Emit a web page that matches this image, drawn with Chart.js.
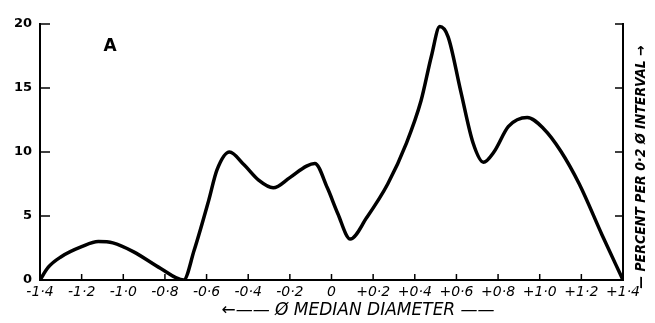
<!DOCTYPE html>
<html>
<head>
<meta charset="utf-8">
<script src="https://cdn.jsdelivr.net/npm/chart.js@4/dist/chart.umd.min.js"></script>
<style>
  html, body { margin: 0; padding: 0; background: #fff; }
  #wrap { width: 655px; height: 323px; position: relative; }
</style>
</head>
<body>
<div id="wrap"><canvas id="c"></canvas></div>
<script>
// phi median diameter (x) and percent per 0.2 phi interval (y)
const phiDiameter = [-1.40, -1.36, -1.30, -1.20, -1.12, -1.05, -0.95, -0.82, -0.71,
  -0.66, -0.59, -0.55, -0.49, -0.42, -0.35, -0.28, -0.20, -0.12, -0.08,
  -0.02, 0.03, 0.09, 0.17, 0.27, 0.36, 0.43, 0.48, 0.52, 0.56, 0.62, 0.68,
  0.73, 0.78, 0.85, 0.94, 1.02, 1.10, 1.19, 1.30, 1.40];
const percent = [0, 1.0, 1.8, 2.6, 3.0, 2.9, 2.2, 0.9, 0,
  2.3, 6.2, 8.6, 10.0, 9.0, 7.8, 7.2, 8.0, 8.9, 9.1,
  7.2, 5.2, 3.2, 4.9, 7.5, 10.7, 14.0, 17.5, 19.8, 19.0, 14.8, 10.7,
  9.2, 10.0, 12.0, 12.7, 11.8, 10.1, 7.5, 3.5, 0];
const xTickLabels = ['-1·4', '-1·2', '-1·0', '-0·8', '-0·6', '-0·4', '-0·2', '0',
  '+0·2', '+0·4', '+0·6', '+0·8', '+1·0', '+1·2', '+1·4'];
const yTickLabels = ['0', '5', '10', '15', '20'];
const panelLabel = 'A';
const xTitle = '←—— Ø MEDIAN DIAMETER ——';
const yTitle = '— PERCENT PER 0·2 Ø INTERVAL →';

const points = phiDiameter.map((x, i) => ({ x: x, y: percent[i] }));

const decor = {
  id: 'decor',
  afterDraw(chart) {
    const ctx = chart.ctx;
    const xs = chart.scales.x, ys = chart.scales.y;
    const a = chart.chartArea;
    ctx.save();
    ctx.strokeStyle = '#000';
    ctx.lineWidth = 1.5;
    // inward tick marks
    xs.ticks.forEach(t => {
      const px = xs.getPixelForValue(t.value);
      ctx.beginPath(); ctx.moveTo(px, a.bottom); ctx.lineTo(px, a.bottom - 6); ctx.stroke();
    });
    ys.ticks.forEach(t => {
      const py = ys.getPixelForValue(t.value);
      ctx.beginPath(); ctx.moveTo(a.left, py); ctx.lineTo(a.left + 10, py); ctx.stroke();
      ctx.beginPath(); ctx.moveTo(a.right, py); ctx.lineTo(a.right - 8, py); ctx.stroke();
    });
    ctx.fillStyle = '#000';
    // panel label
    ctx.font = 'bold 17px "DejaVu Sans", sans-serif';
    ctx.textAlign = 'center'; ctx.textBaseline = 'middle';
    ctx.fillText(panelLabel, 110, 47);
    // x title
    ctx.font = 'italic 17px "DejaVu Sans", sans-serif';
    ctx.fillText(xTitle, 358, 311);
    // right title
    ctx.translate(641, 167);
    ctx.rotate(-Math.PI / 2);
    ctx.font = 'italic bold 14px "DejaVu Sans Condensed", "Liberation Sans Narrow", sans-serif';
    ctx.fillText(yTitle, 0, 0);
    ctx.restore();
  }
};

new Chart(document.getElementById('c'), {
  type: 'line',
  data: {
    datasets: [{
      data: points,
      borderColor: '#000',
      borderWidth: 3.5,
      pointRadius: 0,
      fill: false,
      cubicInterpolationMode: 'monotone'
    }]
  },
  options: {
    responsive: true,
    maintainAspectRatio: false,
    animation: false,
    layout: { padding: { top: 24, left: 0, right: 0, bottom: 0 } },
    plugins: { legend: { display: false }, tooltip: { enabled: false } },
    scales: {
      x: {
        type: 'linear', min: -1.4, max: 1.4,
        afterFit: s => { s.height = 43; },
        afterBuildTicks: s => { s.ticks = xTickLabels.map((_, i) => ({ value: -1.4 + i * 0.2 })); },
        border: { display: true, color: '#000', width: 2 },
        grid: { display: true, drawOnChartArea: false, drawTicks: false, color: 'rgba(0,0,0,0)' },
        ticks: {
          color: '#000', padding: 4, maxRotation: 0, autoSkip: false,
          font: { family: '"DejaVu Sans", sans-serif', style: 'italic', size: 14 },
          callback: (v, i) => xTickLabels[i]
        }
      },
      y: {
        type: 'linear', min: 0, max: 20, position: 'left',
        afterFit: s => { s.width = 40; },
        afterBuildTicks: s => { s.ticks = yTickLabels.map((_, i) => ({ value: i * 5 })); },
        border: { display: true, color: '#000', width: 2 },
        grid: { display: true, drawOnChartArea: false, drawTicks: false, color: 'rgba(0,0,0,0)' },
        ticks: {
          color: '#000', padding: 8,
          font: { family: '"DejaVu Sans", sans-serif', weight: 'bold', size: 13 },
          callback: (v, i) => yTickLabels[i]
        }
      },
      y2: {
        type: 'linear', min: 0, max: 20, position: 'right',
        afterFit: s => { s.width = 32; },
        border: { display: true, color: '#000', width: 2 },
        grid: { display: true, drawOnChartArea: false, drawTicks: false, color: 'rgba(0,0,0,0)' },
        ticks: { display: false }
      }
    }
  },
  plugins: [decor]
});
</script>
</body>
</html>
